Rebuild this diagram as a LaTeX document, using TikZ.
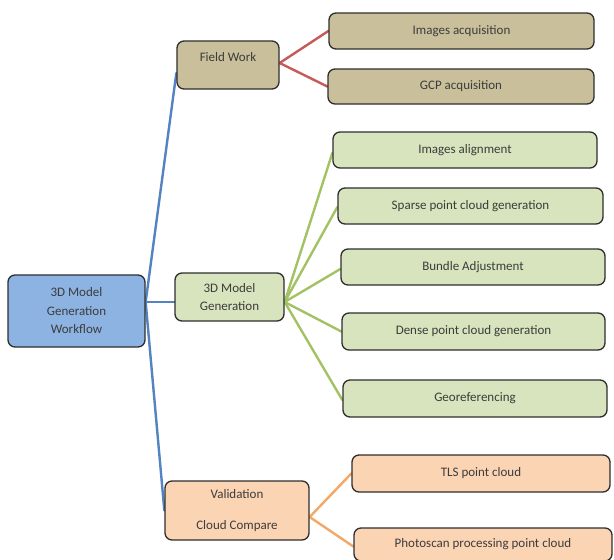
\documentclass[tikz,border=0pt]{standalone}
\usepackage{fontspec}
\setmainfont{Carlito}
\usetikzlibrary{backgrounds}
\definecolor{rootfill}{HTML}{8DB3E2}
\definecolor{tanfill}{HTML}{C9BF9B}
\definecolor{greenfill}{HTML}{D7E4BD}
\definecolor{orangefill}{HTML}{FBD4B4}
\definecolor{boxborder}{HTML}{2E2E2E}
\definecolor{txt}{HTML}{3C3C3C}
\definecolor{blueline}{HTML}{5383C0}
\definecolor{redline}{HTML}{C55A58}
\definecolor{greenline}{HTML}{A3C263}
\definecolor{orangeline}{HTML}{F4A865}
\tikzset{
  box/.style={draw=boxborder, line width=1.3pt, rounded corners=7pt, inner sep=0pt,
    align=center, text=txt, font=\fontsize{13}{18.5}\selectfont},
  rootbox/.style={box, fill=rootfill},
  tanbox/.style={box, fill=tanfill},
  greenbox/.style={box, fill=greenfill},
  orangebox/.style={box, fill=orangefill},
  conn/.style={line width=2.4pt, line cap=round},
  bl/.style={conn, draw=blueline},
  rd/.style={conn, draw=redline},
  gr/.style={conn, draw=greenline},
  og/.style={conn, draw=orangeline}
}
\begin{document}
\begin{tikzpicture}[x=1pt,y=-1pt]
\useasboundingbox (0,0) rectangle (614,560);
% level 0
\node[rootbox, minimum width=137pt, minimum height=72pt] (root) at (76.5,311) {3D Model\\Generation\\Workflow};
% level 1
\node[tanbox, minimum width=102pt, minimum height=48pt, text height=9pt, text depth=16.6pt] (field) at (228,65) {Field Work};
\node[greenbox, minimum width=109pt, minimum height=48pt] (gen) at (229.5,297) {3D Model\\Generation};
\node[orangebox, minimum width=144pt, minimum height=59pt] (val) at (237,510.5) {Validation\\[12.5pt]Cloud Compare};
% level 2
\node[tanbox, minimum width=265pt, minimum height=36pt] (imgacq) at (461.5,31) {Images acquisition};
\node[tanbox, minimum width=266pt, minimum height=35pt] (gcp) at (461,86.5) {GCP acquisition};
\node[greenbox, minimum width=264pt, minimum height=36pt] (align) at (465,150) {Images alignment};
\node[greenbox, minimum width=265pt, minimum height=36pt] (sparse) at (470.5,206) {Sparse point cloud generation};
\node[greenbox, minimum width=264pt, minimum height=36pt] (bundle) at (473,267) {Bundle Adjustment};
\node[greenbox, minimum width=263pt, minimum height=37pt] (dense) at (473.5,331.5) {Dense point cloud generation};
\node[greenbox, minimum width=264pt, minimum height=37pt] (georef) at (475,398.5) {Georeferencing};
\node[orangebox, minimum width=258pt, minimum height=37pt] (tls) at (481,473.5) {TLS point cloud};
\node[orangebox, minimum width=258pt, minimum height=33pt] (photo) at (483,544.5) {Photoscan processing point cloud};
% connectors
\coordinate (rj) at ([yshift=9pt]root.east);
\coordinate (fj) at ([yshift=2pt]field.east);
\coordinate (gj) at ([yshift=-5pt]gen.east);
\coordinate (vj) at ([yshift=-6.5pt]val.east);
\begin{pgfonlayer}{background}
\draw[bl] (rj) -- ([yshift=-8pt]field.west);
\draw[bl] (rj) -- ([yshift=-5pt]gen.west);
\draw[bl] (rj) -- (val.west);
\draw[rd] (fj) -- (imgacq.west);
\draw[rd] (fj) -- (gcp.west);
\draw[gr] (gj) -- ([yshift=-3pt]align.west);
\draw[gr] (gj) -- ([yshift=-1pt]sparse.west);
\draw[gr] (gj) -- ([yshift=-2pt]bundle.west);
\draw[gr] (gj) -- (dense.west);
\draw[gr] (gj) -- ([yshift=-1.5pt]georef.west);
\draw[og] (vj) -- (tls.west);
\draw[og] (vj) -- ([yshift=-2pt]photo.west);
\end{pgfonlayer}
\end{tikzpicture}
\end{document}
